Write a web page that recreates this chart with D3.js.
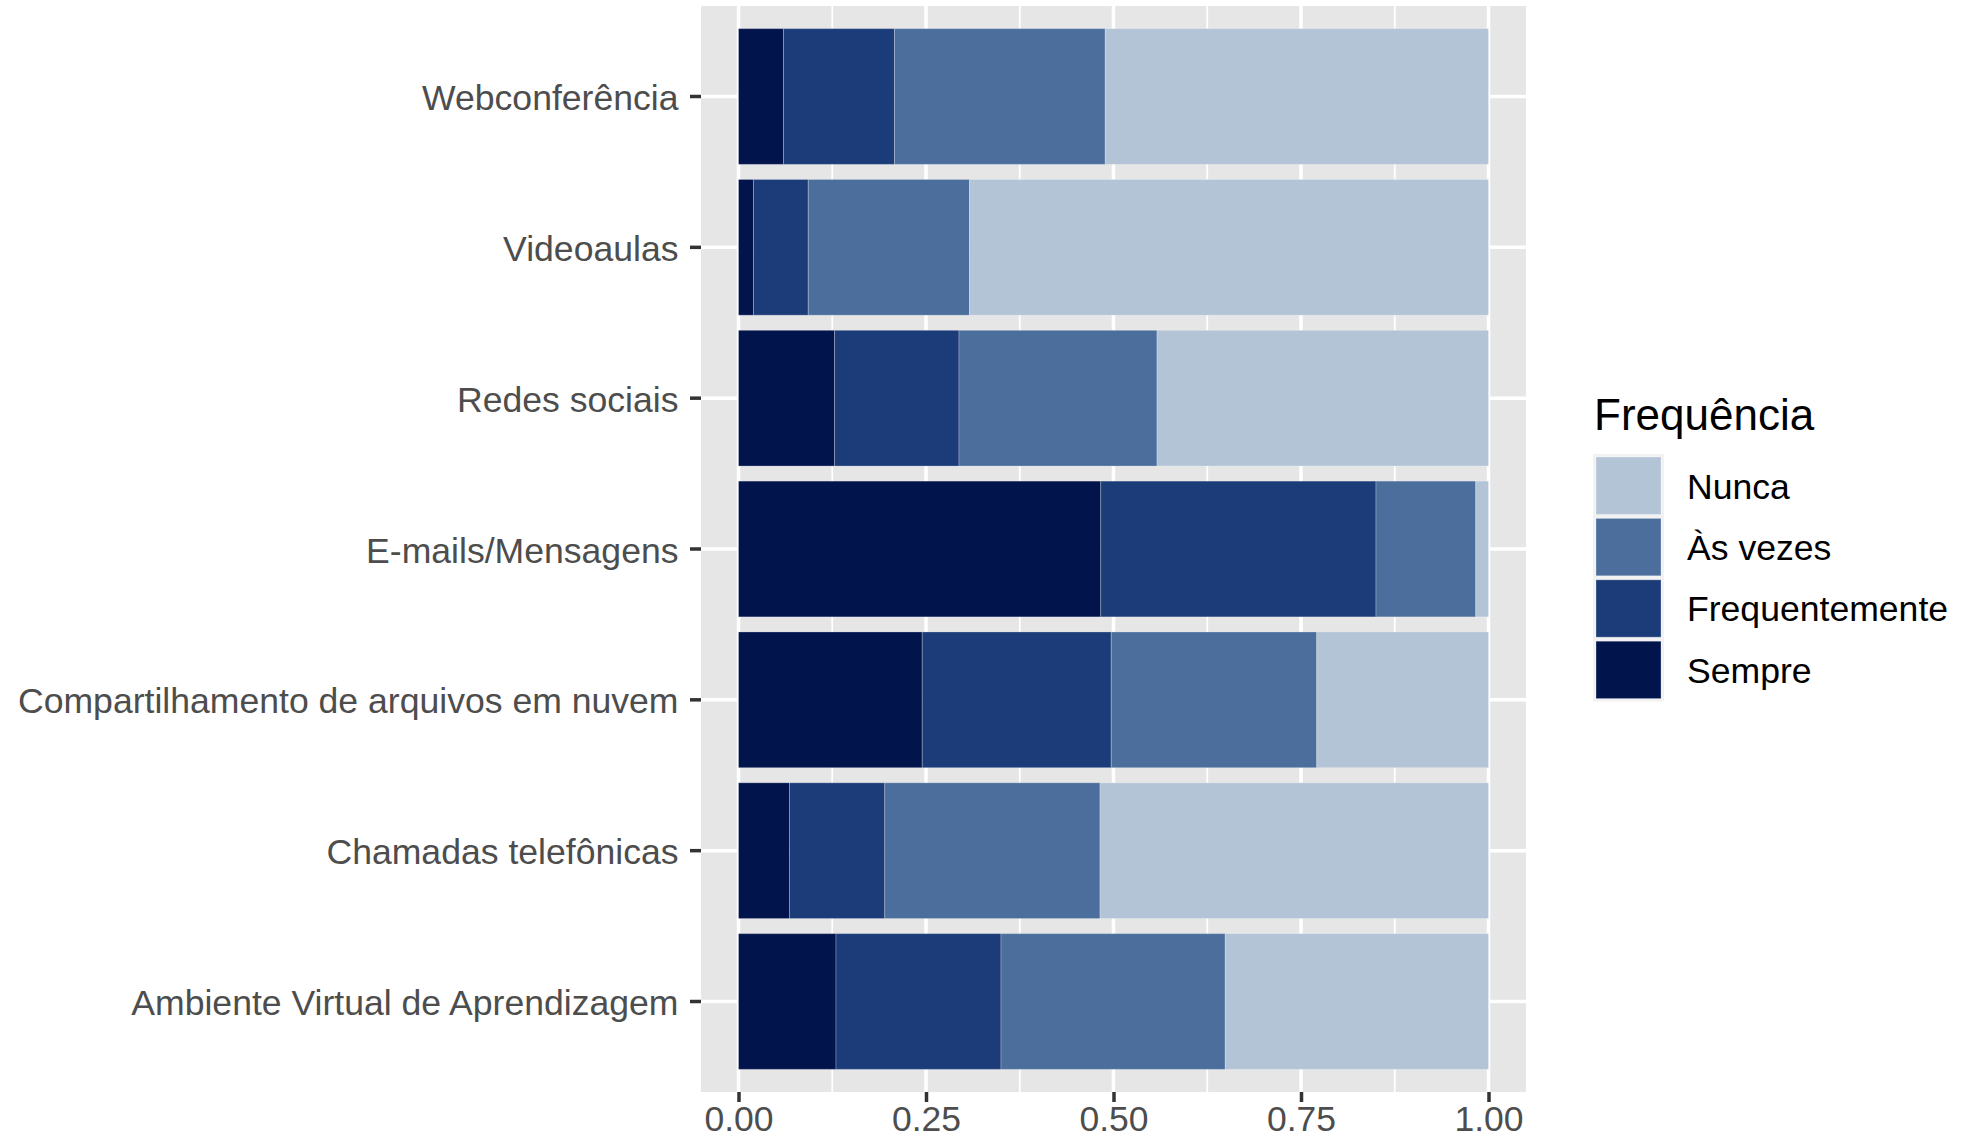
<!DOCTYPE html>
<html>
<head>
<meta charset="utf-8">
<script src="https://cdn.jsdelivr.net/npm/d3@7"></script>
<style>
  html, body { margin: 0; padding: 0; background: #ffffff; }
  svg { display: block; }
  text { font-family: "Liberation Sans", Arial, Helvetica, sans-serif; }
</style>
</head>
<body>
<svg id="chart" width="1977" height="1140"></svg>
<script>
// ---- Data ----
const categories = [
  "Webconferência",
  "Videoaulas",
  "Redes sociais",
  "E-mails/Mensagens",
  "Compartilhamento de arquivos em nuvem",
  "Chamadas telefônicas",
  "Ambiente Virtual de Aprendizagem"
];
const seriesNames = ["Sempre", "Frequentemente", "Às vezes", "Nunca"];
const sempre         = [0.060, 0.020, 0.128, 0.483, 0.245, 0.068, 0.130];
const frequentemente = [0.148, 0.073, 0.166, 0.367, 0.252, 0.127, 0.220];
const asVezes        = [0.281, 0.215, 0.264, 0.133, 0.274, 0.287, 0.299];
const nunca          = [0.511, 0.692, 0.442, 0.017, 0.229, 0.518, 0.351];
const xTicks = [0, 0.25, 0.5, 0.75, 1];
const xTickLabels = ["0.00", "0.25", "0.50", "0.75", "1.00"];
const legendTitle = "Frequência";
const legendOrder = ["Nunca", "Às vezes", "Frequentemente", "Sempre"];

// ---- Build table ----
const rows = categories.map((c, i) => ({
  cat: c,
  "Sempre": sempre[i],
  "Frequentemente": frequentemente[i],
  "Às vezes": asVezes[i],
  "Nunca": nunca[i]
}));

const colors = {
  "Sempre": "#02144C",
  "Frequentemente": "#1B3C79",
  "Às vezes": "#4B6E9C",
  "Nunca": "#B3C4D7"
};

// ---- Layout ----
const panel = { left: 701, right: 1526, top: 6, bottom: 1092 };
const svg = d3.select("#chart");

const x = d3.scaleLinear().domain([-0.05, 1.05]).range([panel.left, panel.right]);
const y = d3.scaleBand()
  .domain(categories)
  .range([panel.top, panel.bottom])
  .paddingInner(0.1)
  .paddingOuter(0.15);

// panel background
svg.append("rect")
  .attr("x", panel.left).attr("y", panel.top)
  .attr("width", panel.right - panel.left)
  .attr("height", panel.bottom - panel.top)
  .attr("fill", "#E6E6E6");

// minor vertical grid
const minor = [0.125, 0.375, 0.625, 0.875];
svg.append("g").selectAll("line").data(minor).join("line")
  .attr("x1", d => x(d)).attr("x2", d => x(d))
  .attr("y1", panel.top).attr("y2", panel.bottom)
  .attr("stroke", "#ffffff").attr("stroke-width", 1.8);

// major vertical grid
svg.append("g").selectAll("line").data(xTicks).join("line")
  .attr("x1", d => x(d)).attr("x2", d => x(d))
  .attr("y1", panel.top).attr("y2", panel.bottom)
  .attr("stroke", "#ffffff").attr("stroke-width", 3.5);

// major horizontal grid
svg.append("g").selectAll("line").data(categories).join("line")
  .attr("x1", panel.left).attr("x2", panel.right)
  .attr("y1", d => y(d) + y.bandwidth() / 2).attr("y2", d => y(d) + y.bandwidth() / 2)
  .attr("stroke", "#ffffff").attr("stroke-width", 3.5);

// ---- Stacked bars ----
const stack = d3.stack().keys(seriesNames);
const stacked = stack(rows);

svg.append("g").selectAll("g").data(stacked).join("g")
  .attr("fill", d => colors[d.key])
  .selectAll("rect").data(d => d).join("rect")
  .attr("x", d => x(d[0]))
  .attr("width", d => x(d[1]) - x(d[0]))
  .attr("y", d => y(d.data.cat))
  .attr("height", y.bandwidth())
  .attr("stroke", "#ffffff")
  .attr("stroke-opacity", 0.25)
  .attr("stroke-width", 1);

// ---- Axes ----
const yAxis = svg.append("g")
  .attr("transform", `translate(${panel.left},0)`)
  .call(d3.axisLeft(y).tickSize(11).tickPadding(11.5));
yAxis.select(".domain").remove();
yAxis.selectAll(".tick line").attr("stroke", "#333333").attr("stroke-width", 3.5);
yAxis.selectAll(".tick text")
  .attr("fill", "#4D4D4D")
  .attr("dy", "0.38em")
  .style("font-size", "35.6px")
  .style("font-family", "'Liberation Sans', Arial, Helvetica, sans-serif");

const xAxis = svg.append("g")
  .attr("transform", `translate(0,${panel.bottom})`)
  .call(d3.axisBottom(x).tickValues(xTicks).tickFormat((d, i) => xTickLabels[i]).tickSize(10).tickPadding(4));
xAxis.select(".domain").remove();
xAxis.selectAll(".tick line").attr("stroke", "#333333").attr("stroke-width", 3.5);
xAxis.selectAll(".tick text")
  .attr("fill", "#4D4D4D")
  .style("font-size", "35.5px")
  .style("font-family", "'Liberation Sans', Arial, Helvetica, sans-serif");

// ---- Legend ----
const lg = svg.append("g");
lg.append("text")
  .attr("x", 1594).attr("y", 430)
  .attr("fill", "#000000")
  .style("font-size", "44px")
  .text(legendTitle);

const keyX = 1593, keyTop = 454, keyW = 71, keyPitch = 61.4;
lg.append("rect")
  .attr("x", keyX).attr("y", keyTop)
  .attr("width", keyW).attr("height", keyPitch * legendOrder.length + 2)
  .attr("fill", "#F2F2F2");

const items = lg.selectAll("g.item").data(legendOrder).join("g").attr("class", "item");
items.append("rect")
  .attr("x", keyX + 3)
  .attr("y", (d, i) => keyTop + 3 + i * keyPitch)
  .attr("width", keyW - 6)
  .attr("height", keyPitch - 4)
  .attr("fill", d => colors[d])
  .attr("stroke", "#ffffff").attr("stroke-opacity", 0.3).attr("stroke-width", 1);
items.append("text")
  .attr("x", 1687)
  .attr("y", (d, i) => keyTop + 3 + i * keyPitch + (keyPitch - 4) / 2)
  .attr("dy", "0.36em")
  .attr("fill", "#000000")
  .style("font-size", "35.6px")
  .text(d => d);
</script>
</body>
</html>
